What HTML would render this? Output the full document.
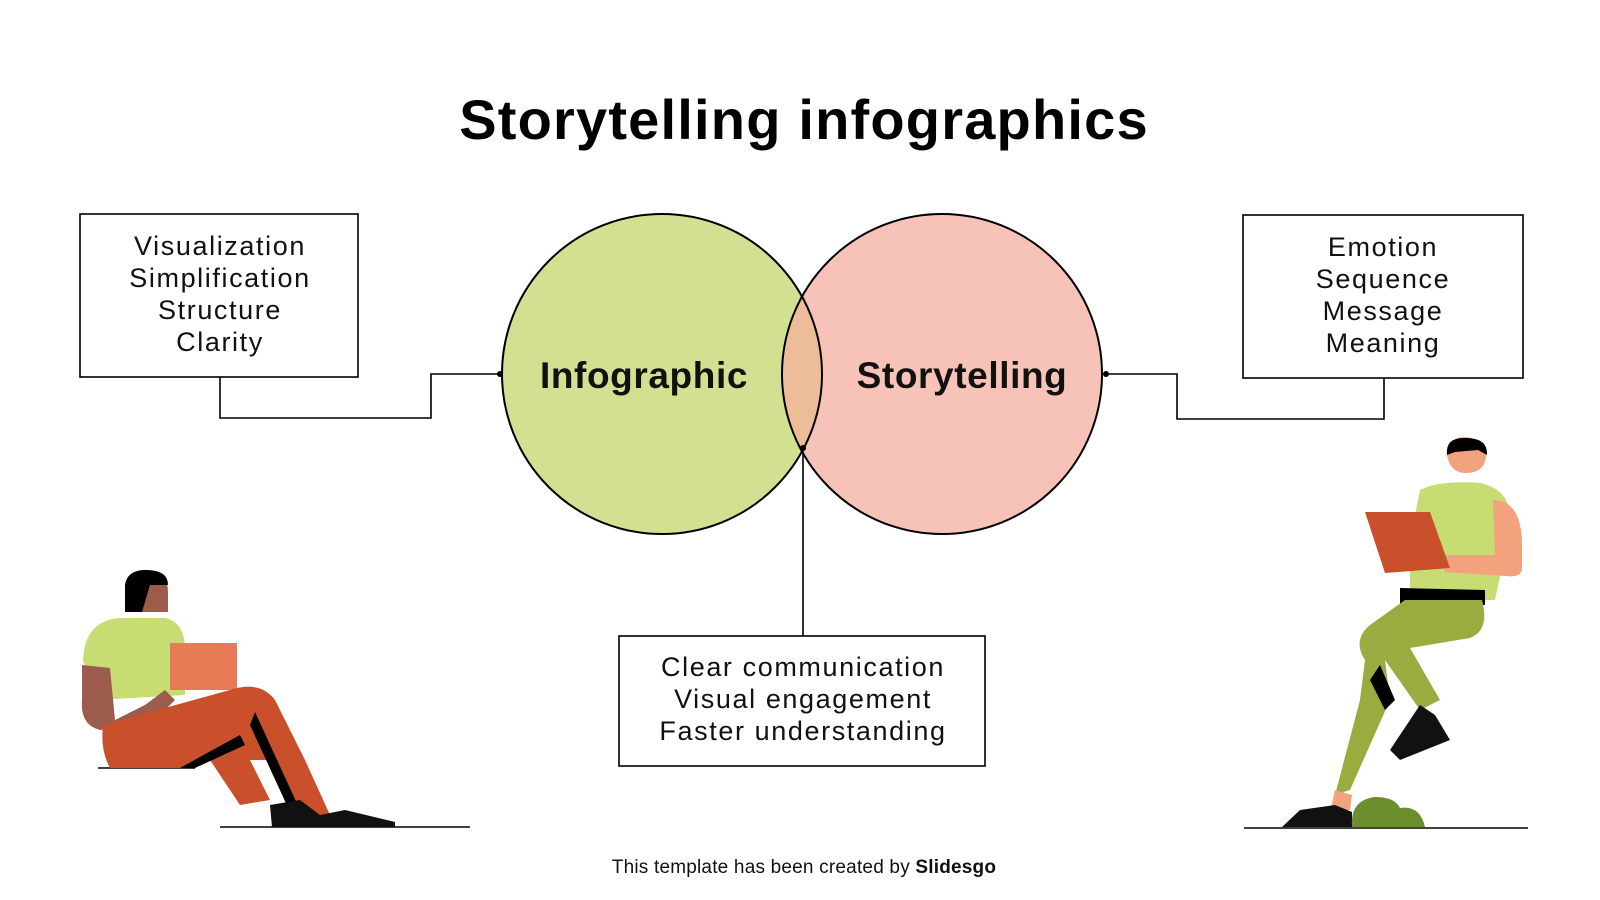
<!DOCTYPE html>
<html><head><meta charset="utf-8"><style>
html,body{margin:0;padding:0;background:#fff}
body{width:1600px;height:900px;position:relative;overflow:hidden;font-family:"Liberation Sans",sans-serif}
</style></head><body>
<svg width="1600" height="900" viewBox="0 0 1600 900" xmlns="http://www.w3.org/2000/svg" style="position:absolute;left:0;top:0">
<text x="804" y="139" text-anchor="middle" font-family="Liberation Sans" font-weight="bold" font-size="56" letter-spacing="1.2" fill="#000">Storytelling infographics</text>

<!-- circles -->
<circle cx="662" cy="374" r="160" fill="#d2e092"/>
<circle cx="942" cy="374" r="160" fill="#f7c3b8"/>
<clipPath id="c1"><circle cx="662" cy="374" r="160"/></clipPath>
<circle cx="942" cy="374" r="160" fill="#ecbd98" clip-path="url(#c1)"/>
<circle cx="662" cy="374" r="160" fill="none" stroke="#000" stroke-width="2"/>
<circle cx="942" cy="374" r="160" fill="none" stroke="#000" stroke-width="2"/>
<text x="644" y="388" text-anchor="middle" font-weight="bold" font-size="37" letter-spacing="0.6" fill="#111">Infographic</text>
<text x="962" y="388" text-anchor="middle" font-weight="bold" font-size="37" letter-spacing="0.6" fill="#111">Storytelling</text>

<!-- connectors -->
<g fill="none" stroke="#000" stroke-width="1.6">
<polyline points="220,377 220,418 431,418 431,374 500,374"/>
<polyline points="1106,374 1177,374 1177,419 1384,419 1384,378"/>
<line x1="803" y1="448" x2="803" y2="636"/>
</g>
<circle cx="500" cy="374" r="3" fill="#000"/>
<circle cx="1106" cy="374" r="3" fill="#000"/>
<circle cx="803" cy="448" r="3" fill="#000"/>

<!-- boxes -->
<g fill="#fff" stroke="#000" stroke-width="1.6">
<rect x="80" y="214" width="278" height="163"/>
<rect x="1243" y="215" width="280" height="163"/>
<rect x="619" y="636" width="366" height="130"/>
</g>
<g font-size="27" fill="#111" text-anchor="middle" letter-spacing="1.6">
<text x="220" y="255">Visualization</text>
<text x="220" y="287">Simplification</text>
<text x="220" y="319">Structure</text>
<text x="220" y="351">Clarity</text>
<text x="1383" y="256">Emotion</text>
<text x="1383" y="288">Sequence</text>
<text x="1383" y="320">Message</text>
<text x="1383" y="352">Meaning</text>
<text x="803" y="676">Clear communication</text>
<text x="803" y="708">Visual engagement</text>
<text x="803" y="740">Faster understanding</text>
</g>
<text x="804" y="873" text-anchor="middle" font-size="19" letter-spacing="0.2" fill="#111">This template has been created by <tspan font-weight="bold">Slidesgo</tspan></text>

<!-- ground lines -->
<g stroke="#000" stroke-width="1.5">
<line x1="98" y1="768" x2="195" y2="768"/>
<line x1="220" y1="827" x2="470" y2="827"/>
<line x1="1244" y1="828" x2="1528" y2="828"/>
</g>

<!-- left figure -->
<g>
<path d="M125,590 Q125,570 146,570 Q168,572 168,592 L168,612 L125,612 Z" fill="#9c5c4c"/>
<path d="M125,612 L125,585 Q127,570 146,570 Q168,570 168,585 L150,585 L142,612 Z" fill="#000"/>
<path d="M83,660 Q85,620 120,618 L165,618 Q185,622 185,650 L185,695 L95,700 Z" fill="#c7dc72"/>
<path d="M82,665 L110,668 L115,720 L145,705 L165,690 L175,700 L150,725 L100,730 Q80,725 82,700 Z" fill="#9c5c4c"/>
<rect x="170" y="643" width="67" height="47" fill="#e87a55"/>
<path d="M103,725 L230,690 Q260,680 275,700 L305,760 L330,815 L300,815 L270,760 L250,760 L270,800 L240,805 L210,760 L185,768 L110,768 Q100,750 103,725 Z" fill="#c9502a"/>
<path d="M180,768 L240,735 L245,745 L195,768 Z" fill="#000"/>
<path d="M255,712 L300,810 L290,812 L250,725 Z" fill="#000"/>
<path d="M270,805 L300,800 L320,815 L345,810 L395,822 L395,827 L272,827 Z" fill="#111"/>
</g>

<!-- right figure -->
<g>
<path d="M1447,455 Q1447,437 1466,437 Q1486,440 1486,457 Q1484,473 1466,473 Q1450,473 1447,455 Z" fill="#f2a37e"/>
<path d="M1447,455 Q1445,437 1466,438 Q1488,438 1487,455 L1478,450 L1455,452 Z" fill="#000"/>
<path d="M1420,490 Q1440,480 1480,483 Q1515,490 1510,530 L1495,600 L1410,600 L1410,540 Z" fill="#c7dc72"/>
<path d="M1493,500 Q1520,500 1522,540 L1522,570 Q1520,578 1505,576 L1445,572 L1440,555 L1495,555 Z" fill="#f2a37e"/>
<path d="M1365,512 L1430,512 L1450,568 L1385,573 Z" fill="#c9502a"/>
<path d="M1400,588 L1485,590 L1485,605 L1400,605 Z" fill="#000"/>
<path d="M1405,600 L1482,600 Q1490,630 1470,638 L1410,648 L1440,700 L1420,710 L1385,660 L1390,700 L1350,790 L1335,795 L1360,700 L1365,660 Q1352,640 1370,625 Z" fill="#9aac3f"/>
<path d="M1380,665 L1395,700 L1385,710 L1370,680 Z" fill="#000"/>
<path d="M1420,705 L1435,715 L1450,740 L1400,760 L1390,750 Z" fill="#111"/>
<path d="M1335,790 L1352,795 L1350,810 L1330,812 Z" fill="#f2a37e"/>
<path d="M1300,810 L1335,805 L1352,812 L1352,827 L1282,827 Z" fill="#111"/>
<path d="M1352,827 Q1350,800 1375,797 Q1395,797 1400,808 Q1420,805 1425,827 Z" fill="#6b8e2e"/>
</g>
</svg>
</body></html>
